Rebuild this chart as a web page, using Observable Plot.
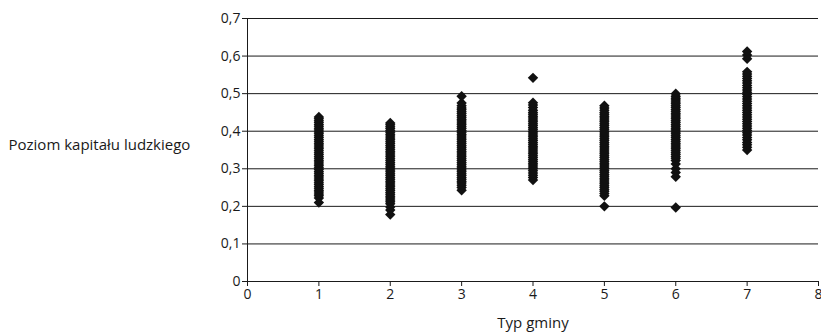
<!DOCTYPE html>
<html>
<head>
<meta charset="utf-8">
<script src="https://cdn.jsdelivr.net/npm/d3@7"></script>
<script src="https://cdn.jsdelivr.net/npm/@observablehq/plot@0.6"></script>
<style>
  html, body { margin: 0; padding: 0; background: #fff; }
  #chart { width: 821px; height: 335px; }
</style>
</head>
<body>
<div id="chart"></div>
<script>
// Municipality types (x)
const types = [1, 2, 3, 4, 5, 6, 7];
// Human capital level values per type
const type1 = [0.21,0.222,0.228,0.233,0.238,0.243,0.248,0.253,0.258,0.263,0.268,0.273,0.278,0.283,0.288,0.293,0.298,0.303,0.308,0.313,0.318,0.323,0.328,0.333,0.338,0.343,0.348,0.353,0.358,0.363,0.368,0.373,0.378,0.383,0.388,0.393,0.398,0.403,0.408,0.413,0.418,0.423,0.428,0.433,0.438];
const type2 = [0.178,0.19,0.198,0.207,0.212,0.217,0.222,0.227,0.232,0.237,0.242,0.247,0.252,0.257,0.262,0.267,0.272,0.277,0.282,0.287,0.292,0.297,0.302,0.307,0.312,0.317,0.322,0.327,0.332,0.337,0.342,0.347,0.352,0.357,0.362,0.367,0.372,0.377,0.382,0.387,0.392,0.397,0.402,0.407,0.412,0.417,0.422];
const type3 = [0.243,0.25,0.256,0.262,0.267,0.272,0.277,0.282,0.287,0.292,0.297,0.302,0.307,0.312,0.317,0.322,0.327,0.332,0.337,0.342,0.347,0.352,0.357,0.362,0.367,0.372,0.377,0.382,0.387,0.392,0.397,0.402,0.407,0.412,0.417,0.422,0.427,0.432,0.437,0.442,0.447,0.452,0.457,0.462,0.468,0.475,0.493];
const type4 = [0.27,0.277,0.283,0.289,0.295,0.3,0.305,0.31,0.315,0.32,0.325,0.33,0.335,0.34,0.345,0.35,0.355,0.36,0.365,0.37,0.375,0.38,0.385,0.39,0.395,0.4,0.405,0.41,0.415,0.42,0.425,0.43,0.435,0.44,0.445,0.45,0.456,0.463,0.47,0.476,0.542];
const type5 = [0.20,0.228,0.234,0.24,0.245,0.25,0.255,0.26,0.265,0.27,0.275,0.28,0.285,0.29,0.295,0.3,0.305,0.31,0.315,0.32,0.325,0.33,0.335,0.34,0.345,0.35,0.355,0.36,0.365,0.37,0.375,0.38,0.385,0.39,0.395,0.4,0.405,0.41,0.415,0.42,0.425,0.43,0.435,0.44,0.445,0.45,0.456,0.462,0.468];
const type6 = [0.197,0.279,0.29,0.3,0.313,0.322,0.328,0.333,0.338,0.343,0.348,0.353,0.358,0.363,0.368,0.373,0.378,0.383,0.388,0.393,0.398,0.403,0.408,0.413,0.418,0.423,0.428,0.433,0.438,0.443,0.448,0.453,0.458,0.463,0.468,0.473,0.478,0.483,0.488,0.493,0.5];
const type7 = [0.35,0.357,0.364,0.37,0.377,0.383,0.39,0.396,0.402,0.408,0.414,0.42,0.426,0.432,0.438,0.444,0.45,0.456,0.462,0.468,0.474,0.48,0.486,0.492,0.498,0.504,0.51,0.516,0.522,0.528,0.534,0.54,0.546,0.552,0.558,0.593,0.603,0.612];
const seriesValues = [type1, type2, type3, type4, type5, type6, type7];
const yTicks = [0, 0.1, 0.2, 0.3, 0.4, 0.5, 0.6, 0.7];
const xTicks = [0, 1, 2, 3, 4, 5, 6, 7, 8];
const yLabel = "Poziom kapitału ludzkiego";
const xLabel = "Typ gminy";

const data = types.flatMap((t, i) => seriesValues[i].map(v => ({type: t, value: v})));
const fmt = d => d === 0 ? "0" : d.toFixed(1).replace(".", ",");

const chart = Plot.plot({
  width: 821,
  height: 335,
  marginLeft: 247,
  marginRight: 3,
  marginTop: 18,
  marginBottom: 54,
  style: {fontFamily: "'Open Sans', sans-serif", fontSize: "14px", color: "#1a1a1a", background: "#fff", overflow: "visible"},
  x: {domain: [0, 8], ticks: xTicks, tickFormat: d => String(d)},
  y: {domain: [0, 0.7], ticks: yTicks, tickFormat: fmt},
  marks: [
    Plot.ruleY(yTicks, {stroke: "#1a1a1a", strokeWidth: 1}),
    Plot.ruleX([0], {stroke: "#1a1a1a", strokeWidth: 1}),
    Plot.axisX({ticks: xTicks, tickFormat: d => String(d), tickSize: 5, tickPadding: 3, label: null, stroke: "#1a1a1a", fill: "#1a1a1a", fontSize: 14}),
    Plot.axisY({ticks: yTicks, tickFormat: fmt, tickSize: 5, tickPadding: 2, label: null, stroke: "#1a1a1a", fill: "#1a1a1a", fontSize: 14}),
    Plot.dot(data, {x: "type", y: "value", symbol: "diamond2", r: 4.7, fill: "#111", stroke: "none"}),
    Plot.text([yLabel], {frameAnchor: "left", dx: -239, dy: -5, textAnchor: "start", fontSize: 15, fill: "#1a1a1a"}),
    Plot.text([xLabel], {frameAnchor: "bottom", dy: 46, textAnchor: "middle", fontSize: 15, fill: "#1a1a1a"})
  ]
});
document.getElementById("chart").appendChild(chart);
</script>
</body>
</html>
